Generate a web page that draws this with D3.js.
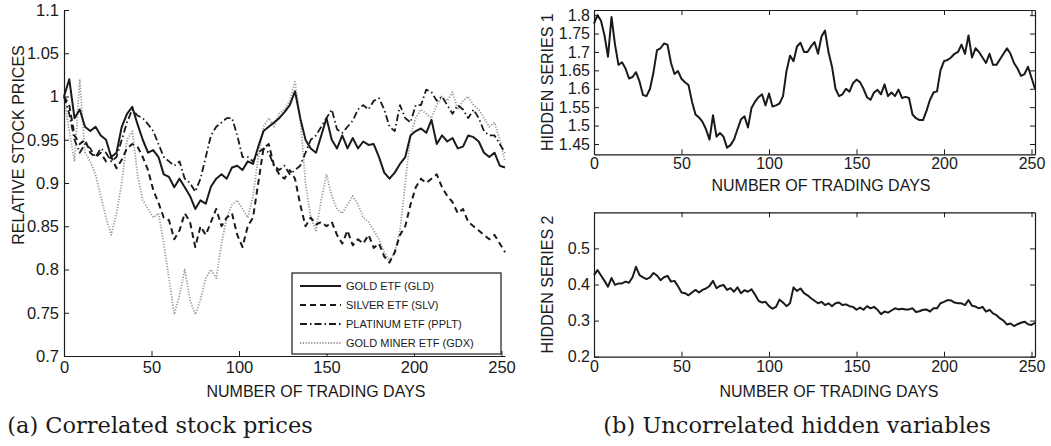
<!DOCTYPE html>
<html><head><meta charset="utf-8">
<script src="https://cdn.jsdelivr.net/npm/d3@7"></script>
<style>body{margin:0;background:#fff} svg{display:block}</style>
</head><body><svg id="c" width="1051" height="446"></svg>
<script>
// ---------------- DATA ----------------
const daysA = d3.range(0, 253, 3);   // trading day index, left panel
const daysB = d3.range(0, 253, 2);   // trading day index, right panels
const xTicks = [0, 50, 100, 150, 200, 250];
const yTicksA = [0.7, 0.75, 0.8, 0.85, 0.9, 0.95, 1, 1.05, 1.1];
const yTicksB1 = [1.45, 1.5, 1.55, 1.6, 1.65, 1.7, 1.75, 1.8];
const yTicksB2 = [0.2, 0.3, 0.4, 0.5];
const seriesNames = ["GOLD ETF (GLD)", "SILVER ETF (SLV)", "PLATINUM ETF (PPLT)", "GOLD MINER ETF (GDX)"];

const gld = [1.0, 1.02, 0.975, 0.985, 0.965, 0.96, 0.965, 0.955, 0.95, 0.93,
  0.935, 0.965, 0.98, 0.988, 0.968, 0.95, 0.935, 0.938, 0.93, 0.91,
  0.907, 0.895, 0.905, 0.895, 0.885, 0.87, 0.88, 0.876, 0.896, 0.905,
  0.91, 0.905, 0.918, 0.92, 0.915, 0.925, 0.922, 0.942, 0.96, 0.965,
  0.97, 0.975, 0.982, 0.99, 1.006, 0.975, 0.95, 0.94, 0.935, 0.955,
  0.975, 0.95, 0.94, 0.955, 0.94, 0.952, 0.94, 0.948, 0.944, 0.945,
  0.93, 0.912, 0.905, 0.912, 0.922, 0.93, 0.955, 0.96, 0.963, 0.958,
  0.973, 0.945, 0.955, 0.948, 0.952, 0.94, 0.942, 0.955, 0.953, 0.948,
  0.935, 0.93, 0.935, 0.92, 0.918];
const slv = [1.0, 0.99, 0.955, 0.945, 0.95, 0.935, 0.93, 0.935, 0.925, 0.93,
  0.917, 0.927, 0.94, 0.945, 0.942, 0.93, 0.915, 0.892, 0.877, 0.86,
  0.857, 0.835, 0.845, 0.865, 0.855, 0.826, 0.85, 0.84, 0.855, 0.87,
  0.85, 0.86, 0.865, 0.84, 0.826, 0.85, 0.86, 0.9, 0.94, 0.945,
  0.92, 0.91, 0.905, 0.915, 0.905, 0.875, 0.85, 0.86, 0.852, 0.855,
  0.85, 0.855, 0.84, 0.83, 0.845, 0.828, 0.835, 0.83, 0.84, 0.825,
  0.83, 0.815, 0.808, 0.82, 0.84, 0.85, 0.875, 0.895, 0.905, 0.9,
  0.905, 0.91, 0.895, 0.885, 0.878, 0.865, 0.87, 0.855, 0.85, 0.845,
  0.84, 0.835, 0.84, 0.83, 0.82];
const pplt = [1.0, 0.98, 0.95, 0.935, 0.945, 0.94, 0.93, 0.94, 0.935, 0.925,
  0.93, 0.95, 0.97, 0.985, 0.978, 0.975, 0.968, 0.96, 0.945, 0.93,
  0.925, 0.92, 0.925, 0.905, 0.9, 0.89, 0.905, 0.93, 0.955, 0.965,
  0.97, 0.975, 0.975, 0.955, 0.93, 0.93, 0.925, 0.935, 0.94, 0.935,
  0.92, 0.915, 0.92, 0.91, 0.915, 0.92, 0.935, 0.95, 0.955, 0.965,
  0.975, 0.985, 0.962, 0.958, 0.965, 0.972, 0.985, 0.99, 0.985, 0.995,
  0.998, 0.985, 0.965, 0.96, 0.99, 0.975, 0.97, 0.99, 0.99, 1.008,
  1.005, 0.995, 1.0, 0.99, 0.98, 0.99, 0.985, 0.975, 0.985, 0.975,
  0.96, 0.955, 0.955, 0.945, 0.935];
const gdx = [1.0, 0.96, 0.925, 1.02, 0.935, 0.925, 0.91, 0.885, 0.86, 0.84,
  0.865, 0.9, 0.95, 0.96, 0.91, 0.88, 0.87, 0.86, 0.865, 0.83,
  0.79, 0.748, 0.77, 0.8, 0.765, 0.748, 0.765, 0.79, 0.8, 0.79,
  0.83, 0.86, 0.875, 0.88, 0.87, 0.86, 0.885, 0.93, 0.965, 0.975,
  0.965, 0.98, 0.985, 0.995, 1.017, 0.975, 0.9, 0.86, 0.845, 0.88,
  0.91, 0.885, 0.87, 0.865, 0.875, 0.885, 0.875, 0.86, 0.855, 0.845,
  0.835, 0.82, 0.81, 0.82, 0.845, 0.9, 0.955, 0.975, 0.985, 0.98,
  0.975, 0.99, 1.0, 0.995, 1.005, 0.985, 0.995, 1.0, 0.99, 0.985,
  0.975, 0.965, 0.97, 0.95, 0.925];

const hidden1 = [1.777, 1.80, 1.785, 1.745, 1.687, 1.795, 1.72, 1.665, 1.672, 1.655,
  1.628, 1.632, 1.645, 1.62, 1.583, 1.58, 1.6, 1.645, 1.705, 1.71,
  1.723, 1.72, 1.67, 1.64, 1.648, 1.627, 1.618, 1.61, 1.565, 1.53,
  1.522, 1.51, 1.49, 1.462, 1.528, 1.47, 1.48, 1.47, 1.44, 1.447,
  1.462, 1.49, 1.517, 1.525, 1.495, 1.548, 1.565, 1.577, 1.585, 1.555,
  1.587, 1.552, 1.555, 1.56, 1.58, 1.648, 1.69, 1.675, 1.715, 1.725,
  1.7, 1.7, 1.715, 1.727, 1.695, 1.742, 1.758, 1.7, 1.66, 1.6,
  1.58, 1.585, 1.6, 1.592, 1.615, 1.625, 1.618, 1.6, 1.577, 1.57,
  1.59, 1.597, 1.585, 1.612, 1.58, 1.59, 1.58, 1.598, 1.575, 1.578,
  1.575, 1.53, 1.52, 1.515, 1.515, 1.54, 1.57, 1.59, 1.593, 1.65,
  1.675, 1.678, 1.685, 1.695, 1.7, 1.72, 1.695, 1.745, 1.685, 1.71,
  1.7, 1.685, 1.67, 1.695, 1.665, 1.665, 1.68, 1.695, 1.71, 1.695,
  1.67, 1.655, 1.635, 1.64, 1.66, 1.63, 1.6];
const hidden2 = [0.426, 0.44, 0.425, 0.41, 0.394, 0.418, 0.399, 0.403, 0.403, 0.408,
  0.405, 0.42, 0.449, 0.426, 0.42, 0.415, 0.42, 0.432, 0.425, 0.412,
  0.42, 0.424, 0.408, 0.41, 0.395, 0.378, 0.376, 0.37, 0.378, 0.385,
  0.378, 0.385, 0.389, 0.396, 0.41, 0.39, 0.396, 0.399, 0.385, 0.39,
  0.38, 0.392, 0.376, 0.384, 0.38, 0.387, 0.372, 0.355, 0.35, 0.352,
  0.34, 0.333, 0.338, 0.358, 0.35, 0.34, 0.348, 0.392, 0.382, 0.389,
  0.376, 0.37, 0.362, 0.355, 0.348, 0.352, 0.343, 0.348, 0.34, 0.348,
  0.35, 0.343, 0.345, 0.34, 0.338, 0.33, 0.336, 0.33, 0.34, 0.334,
  0.338, 0.33, 0.318, 0.325, 0.322, 0.328, 0.334, 0.331, 0.333, 0.331,
  0.331, 0.334, 0.324, 0.326, 0.33, 0.331, 0.325, 0.334, 0.334, 0.348,
  0.352, 0.357, 0.356, 0.35, 0.348, 0.348, 0.343, 0.357, 0.341, 0.339,
  0.334, 0.338, 0.325, 0.33, 0.32, 0.315, 0.306, 0.3, 0.289, 0.292,
  0.285, 0.29, 0.294, 0.297, 0.29, 0.288, 0.294];

// ---------------- DRAW ----------------
const SANS = '"Liberation Sans", Arial, Helvetica, sans-serif';
const SERIF = '"DejaVu Serif", "Liberation Serif", serif';
const INK = "#1a1a1a";
const svg = d3.select("#c");
const fmt = d => String(Math.round(d * 100) / 100);

function styleAxis(g, size) {
  g.selectAll("path.domain").attr("stroke", INK).attr("stroke-width", 1.2);
  g.selectAll(".tick line").attr("stroke", INK).attr("stroke-width", 1);
  g.selectAll("text").attr("font-family", SANS).attr("font-size", size).attr("fill", INK);
}

// ---- Panel (a)
const xA = d3.scaleLinear().domain([0, 252]).range([64, 505]);
const yA = d3.scaleLinear().domain([0.7, 1.1]).range([356, 10]);
const gA = svg.append("g");

const styles = [
  { data: gld, color: INK, w: 2, dash: null },
  { data: slv, color: INK, w: 2, dash: "6,4" },
  { data: pplt, color: INK, w: 1.8, dash: "7,3,1.5,3" },
  { data: gdx, color: "#999", w: 1.8, dash: "1.2,1.6" }
];
const lineA = d3.line().x((d, i) => xA(daysA[i])).y(d => yA(d));
[3, 2, 1, 0].forEach(k => {
  const s = styles[k];
  gA.append("path").datum(s.data).attr("d", lineA)
    .attr("fill", "none").attr("stroke", s.color).attr("stroke-width", s.w)
    .attr("stroke-linejoin", "round")
    .attr("stroke-dasharray", s.dash);
});

gA.append("g").attr("transform", "translate(0,356)")
  .call(d3.axisBottom(xA).tickValues(xTicks).tickFormat(fmt).tickSizeInner(-5).tickSizeOuter(0).tickPadding(5))
  .call(g => styleAxis(g, "16.5px"));
gA.append("g").attr("transform", "translate(64,0)")
  .call(d3.axisLeft(yA).tickValues(yTicksA).tickFormat(fmt).tickSizeInner(-5).tickSizeOuter(0).tickPadding(5))
  .call(g => styleAxis(g, "16.5px"));

// legend
const lg = gA.append("g");
lg.append("rect").attr("x", 292).attr("y", 273).attr("width", 209).attr("height", 81)
  .attr("fill", "#fff").attr("stroke", INK).attr("stroke-width", 1.2);
const legY = [286, 305, 324, 343];
seriesNames.forEach((name, k) => {
  const s = styles[k];
  lg.append("line").attr("x1", 300).attr("x2", 341).attr("y1", legY[k]).attr("y2", legY[k])
    .attr("stroke", s.color).attr("stroke-width", s.w).attr("stroke-dasharray", s.dash);
  lg.append("text").attr("x", 346).attr("y", legY[k]).attr("dy", "0.35em")
    .attr("font-family", SANS).attr("font-size", "11px").attr("fill", INK).text(name);
});

gA.append("text").attr("x", 316).attr("y", 396.5).attr("text-anchor", "middle")
  .attr("font-family", SANS).attr("font-size", "16px").attr("fill", INK).text("NUMBER OF TRADING DAYS");
gA.append("text").attr("transform", "translate(23.5,145) rotate(-90)").attr("text-anchor", "middle")
  .attr("font-family", SANS).attr("font-size", "16px").attr("fill", INK).text("RELATIVE STOCK PRICES");
gA.append("text").attr("x", 160).attr("y", 433).attr("text-anchor", "middle")
  .attr("font-family", SERIF).attr("font-size", "22.5px").attr("fill", INK).text("(a) Correlated stock prices");

// ---- Panels (b)
const xB = d3.scaleLinear().domain([0, 252]).range([594, 1035]);
function panel(top, bottom, yDomain, yTicks, data, ylabel, xTitleX, xTitleY, labPad) {
  const y = d3.scaleLinear().domain(yDomain).range([bottom, top]);
  const g = svg.append("g");
  const line = d3.line().x((d, i) => xB(daysB[i])).y(d => y(d));
  g.append("path").datum(data).attr("d", line).attr("fill", "none")
    .attr("stroke", INK).attr("stroke-width", 2).attr("stroke-linejoin", "round");
  g.append("g").attr("transform", `translate(0,${bottom})`)
    .call(d3.axisBottom(xB).tickValues(xTicks).tickFormat(fmt).tickSizeInner(-5).tickSizeOuter(0).tickPadding(labPad))
    .call(a => styleAxis(a, "16px"));
  g.append("g").attr("transform", `translate(0,${top})`)
    .call(d3.axisTop(xB).tickValues(xTicks).tickFormat("").tickSizeInner(-5).tickSizeOuter(0))
    .call(a => styleAxis(a, "16px"));
  g.append("g").attr("transform", "translate(594,0)")
    .call(d3.axisLeft(y).tickValues(yTicks).tickFormat(fmt).tickSizeInner(-5).tickSizeOuter(0).tickPadding(4))
    .call(a => styleAxis(a, "16px"));
  g.append("g").attr("transform", "translate(1035,0)")
    .call(d3.axisRight(y).tickValues(yTicks).tickFormat("").tickSizeInner(-5).tickSizeOuter(0))
    .call(a => styleAxis(a, "16px"));
  g.append("text").attr("transform", `translate(553,${(top + bottom) / 2}) rotate(-90)`).attr("text-anchor", "middle")
    .attr("font-family", SANS).attr("font-size", "16px").attr("fill", INK).text(ylabel);
  g.append("text").attr("x", xTitleX).attr("y", xTitleY).attr("text-anchor", "middle")
    .attr("font-family", SANS).attr("font-size", "16px").attr("fill", INK).text("NUMBER OF TRADING DAYS");
}
panel(10, 154.3, [1.422, 1.814], yTicksB1, hidden1, "HIDDEN SERIES 1", 821, 190.5, 3);
panel(212.3, 356.7, [0.2, 0.6], yTicksB2, hidden2, "HIDDEN SERIES 2", 829, 396.5, 3.5);

svg.append("text").attr("x", 797).attr("y", 433).attr("text-anchor", "middle")
  .attr("font-family", SERIF).attr("font-size", "22.5px").attr("fill", INK).text("(b) Uncorrelated hidden variables");
</script>
</body></html>
